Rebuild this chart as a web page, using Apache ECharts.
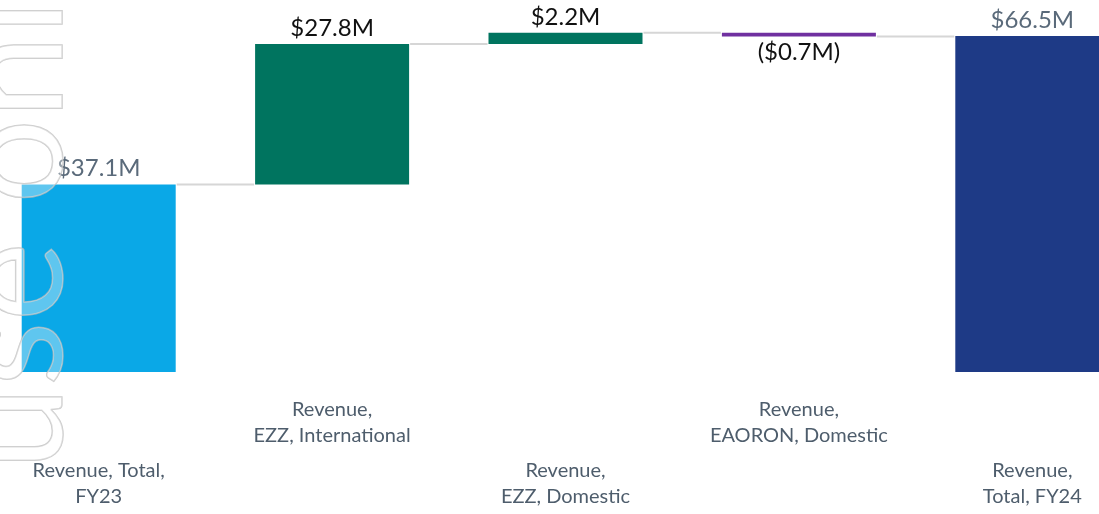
<!DOCTYPE html>
<html>
<head>
<meta charset="utf-8">
<script src="https://cdn.jsdelivr.net/npm/echarts@6/dist/echarts.min.js"></script>
<style>
  html, body { margin: 0; padding: 0; background: #fff; }
  #chart { width: 1099px; height: 514px; }
</style>
</head>
<body>
<div id="chart"></div>
<script>
// 类别与数值（单位：百万美元）
var categories = [
    'Revenue, Total,\nFY23',
    'Revenue,\nEZZ, International',
    'Revenue,\nEZZ, Domestic',
    'Revenue,\nEAORON, Domestic',
    'Revenue,\nTotal, FY24'
];
var values = [37.1, 27.8, 2.2, -0.7, 66.5];
var isTotal = [true, false, false, false, true];
var barColors = ['#0aa8e7', '#00745f', '#00745f', '#7030a0', '#1e3a86'];

// 瀑布图：透明底座 + 可见部分
var baseData = [];
var barData = [];
var levels = [];
var running = 0;
for (var i = 0; i < values.length; i++) {
    var v = values[i];
    if (isTotal[i]) {
        baseData.push(0);
        running = v;
    } else {
        var next = +(running + v).toFixed(1);
        baseData.push(Math.min(running, next));
        running = next;
    }
    barData.push({
        value: Math.abs(v),
        itemStyle: { color: barColors[i] },
        label: {
            color: isTotal[i] ? '#5a6a7a' : '#111111',
            position: v < 0 ? 'bottom' : 'top'
        }
    });
    levels.push(running);
}

// 连接线：每根柱子的顶部到下一根柱子
var connectorData = [];
for (var j = 0; j < levels.length - 1; j++) {
    connectorData.push([j, levels[j]]);
}

function fmt(v) {
    return v < 0 ? '($' + Math.abs(v).toFixed(1) + 'M)' : '$' + v.toFixed(1) + 'M';
}

var chart = echarts.init(document.getElementById('chart'));
var BAR_W = 154;

chart.setOption({
    animation: false,
    grid: { left: -18, width: 1167, top: 0, bottom: 142, outerBoundsMode: 'none', containLabel: false },
    xAxis: {
        type: 'category',
        data: categories,
        axisLine: { show: false },
        axisTick: { show: false },
        axisLabel: {
            interval: 0,
            margin: 25,
            hideOverlap: false,
            formatter: function (val, idx) {
                var lines = val.split('\n').map(function (s) { return '{a|' + s + '}'; }).join('\n');
                return idx % 2 === 0 ? '{gap| }\n' + lines : lines;
            },
            rich: {
                a: { fontFamily: 'Lato', fontSize: 20, color: '#4e5d6c', lineHeight: 26 },
                gap: { fontSize: 10, lineHeight: 61 }
            }
        }
    },
    yAxis: {
        type: 'value',
        min: 0,
        max: 73.6,
        show: false,
        splitLine: { show: false }
    },
    series: [
        {
            type: 'bar',
            stack: 'w',
            barWidth: BAR_W,
            data: baseData,
            itemStyle: { color: 'transparent' },
            silent: true
        },
        {
            type: 'bar',
            stack: 'w',
            barWidth: BAR_W,
            data: barData,
            label: {
                show: true,
                fontFamily: 'Lato',
                fontSize: 24,
                distance: 4,
                formatter: function (p) {
                    return fmt(values[p.dataIndex]);
                }
            }
        },
        {
            type: 'custom',
            data: connectorData,
            renderItem: function (params, api) {
                var p1 = api.coord([api.value(0), api.value(1)]);
                var p2 = api.coord([api.value(0) + 1, api.value(1)]);
                return {
                    type: 'line',
                    shape: {
                        x1: p1[0] + BAR_W / 2 + 1,
                        y1: p1[1],
                        x2: p2[0] - BAR_W / 2 - 1,
                        y2: p1[1]
                    },
                    style: { stroke: '#d6d6d6', lineWidth: 2 }
                };
            }
        }
    ],
    graphic: [
        {
            type: 'text',
            x: -61,
            y: 470,
            rotation: Math.PI / 2,
            z: 100,
            silent: true,
            style: {
                text: 'use only',
                font: '150px Lato',
                fill: 'rgba(255,255,255,0.35)',
                stroke: 'rgba(185,185,185,0.75)',
                lineWidth: 1.5,
                textAlign: 'left',
                textVerticalAlign: 'top'
            }
        }
    ]
});
</script>
</body>
</html>
